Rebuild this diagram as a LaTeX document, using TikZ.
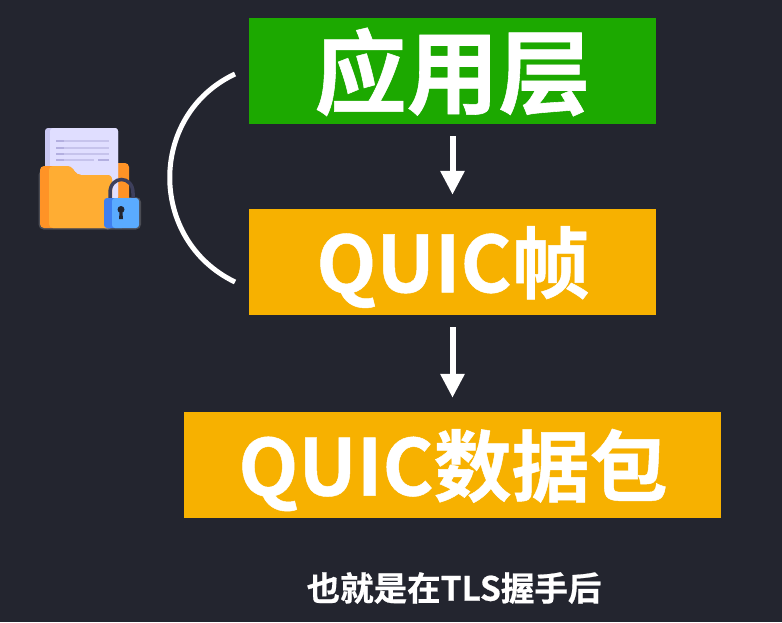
\documentclass[tikz,border=0pt]{standalone}
\usepackage{fontspec}
\setmainfont{Noto Sans CJK SC}[BoldFont={* Bold},BoldFeatures={FakeBold=0.6}]
\usetikzlibrary{arrows.meta}
\definecolor{bgc}{HTML}{23252F}
\definecolor{greenc}{HTML}{1CA900}
\definecolor{amberc}{HTML}{F7B100}
\definecolor{paperc}{HTML}{E0DEFF}
\definecolor{paperd}{HTML}{C9C7F2}
\definecolor{linec}{HTML}{C6C3EC}
\definecolor{lined}{HTML}{B3AFE0}
\definecolor{folderl}{HTML}{FFAD33}
\definecolor{folderd}{HTML}{FF9326}
\definecolor{lockl}{HTML}{5AABFF}
\definecolor{lockd}{HTML}{3F7FF0}
\definecolor{shackle}{HTML}{3D3F5C}
\tikzset{
  layerbox/.style={minimum height=106pt,inner sep=0pt,text=white},
  flow/.style={draw=white,line width=6pt,-{Triangle[length=24pt,width=23pt]},shorten <=12pt,shorten >=14pt},
  bigfont/.style={font=\fontsize{92}{92}\selectfont\bfseries},
  midfont/.style={font=\fontsize{78}{78}\selectfont\bfseries},
}
\begin{document}
\begin{tikzpicture}[x=1pt,y=-1pt]
\fill[bgc] (0,0) rectangle (782,622);
\useasboundingbox (0,0) rectangle (782,622);
\node[layerbox,fill=greenc,minimum width=407pt] (app) at (452.5,71) {};
\node[layerbox,fill=amberc,minimum width=407pt] (frame) at (452.5,262) {};
\node[layerbox,fill=amberc,minimum width=537pt] (pkt) at (452.5,465) {};
\node[text=white,bigfont,inner sep=0pt] (applbl) at (452.5,72) {应用层};
\node[text=white,midfont,inner sep=0pt] (framelbl) at (453,267) {QUIC帧};
\node[text=white,midfont,inner sep=0pt] (pktlbl) at (453,470) {QUIC数据包};
\draw[flow] (app) -- (frame);
\draw[flow] (frame) -- (pkt);
\coordinate (arcA) at (235,74);
\coordinate (arcB) at (235,282);
\draw[white,line width=5pt] (arcA) .. controls (148,115) and (148,240) .. (arcB);
\node[text=white,font=\fontsize{33.5}{33.5}\selectfont\bfseries] (cap) at (454,588) {也就是在TLS握手后};
% icon
\fill[rounded corners=5pt,white,opacity=.18] (38.5,170) rectangle (113,229.5);
\fill[rounded corners=5pt,white,opacity=.18] (102.5,197) rectangle (141,229.5);
\fill[rounded corners=4pt,folderd] (100,163) rectangle (129,226);
\fill[rounded corners=3pt,paperd] (45,128) rectangle (118,200);
\fill[rounded corners=3pt,paperc] (50,128) rectangle (118,200);
\foreach \yy in {141,148,154}{
  \fill[linec] (56,\yy-1.2) rectangle (109,\yy+1.2);
  \fill[lined] (56,\yy-1.2) rectangle (64,\yy+1.2);
}
\fill[linec] (56,158.8) rectangle (94,161.2);
\fill[lined] (56,158.8) rectangle (64,161.2);
\fill[lined] (98,158.8) rectangle (109,161.2);
\fill[rounded corners=4pt,folderd] (40,228) -- (40,166) -- (71,166) -- (77,175) -- (112,175) -- (112,228) -- cycle;
\fill[rounded corners=4pt,folderl] (49,228) -- (49,166) -- (71,166) -- (77,175) -- (112,175) -- (112,228) -- cycle;
\draw[shackle,line width=3.5pt] (110,200) -- (110,193) .. controls (110,175) and (133,175) .. (133,193) -- (133,200);
\fill[rounded corners=3pt,lockd] (104,198) rectangle (125,228);
\fill[rounded corners=3pt,lockl] (112,198) rectangle (139,228);
\fill[bgc] (121,209.5) circle (3.5);
\fill[bgc] (119.7,210) -- (122.3,210) -- (123,219) -- (119,219) -- cycle;
\end{tikzpicture}
\end{document}
